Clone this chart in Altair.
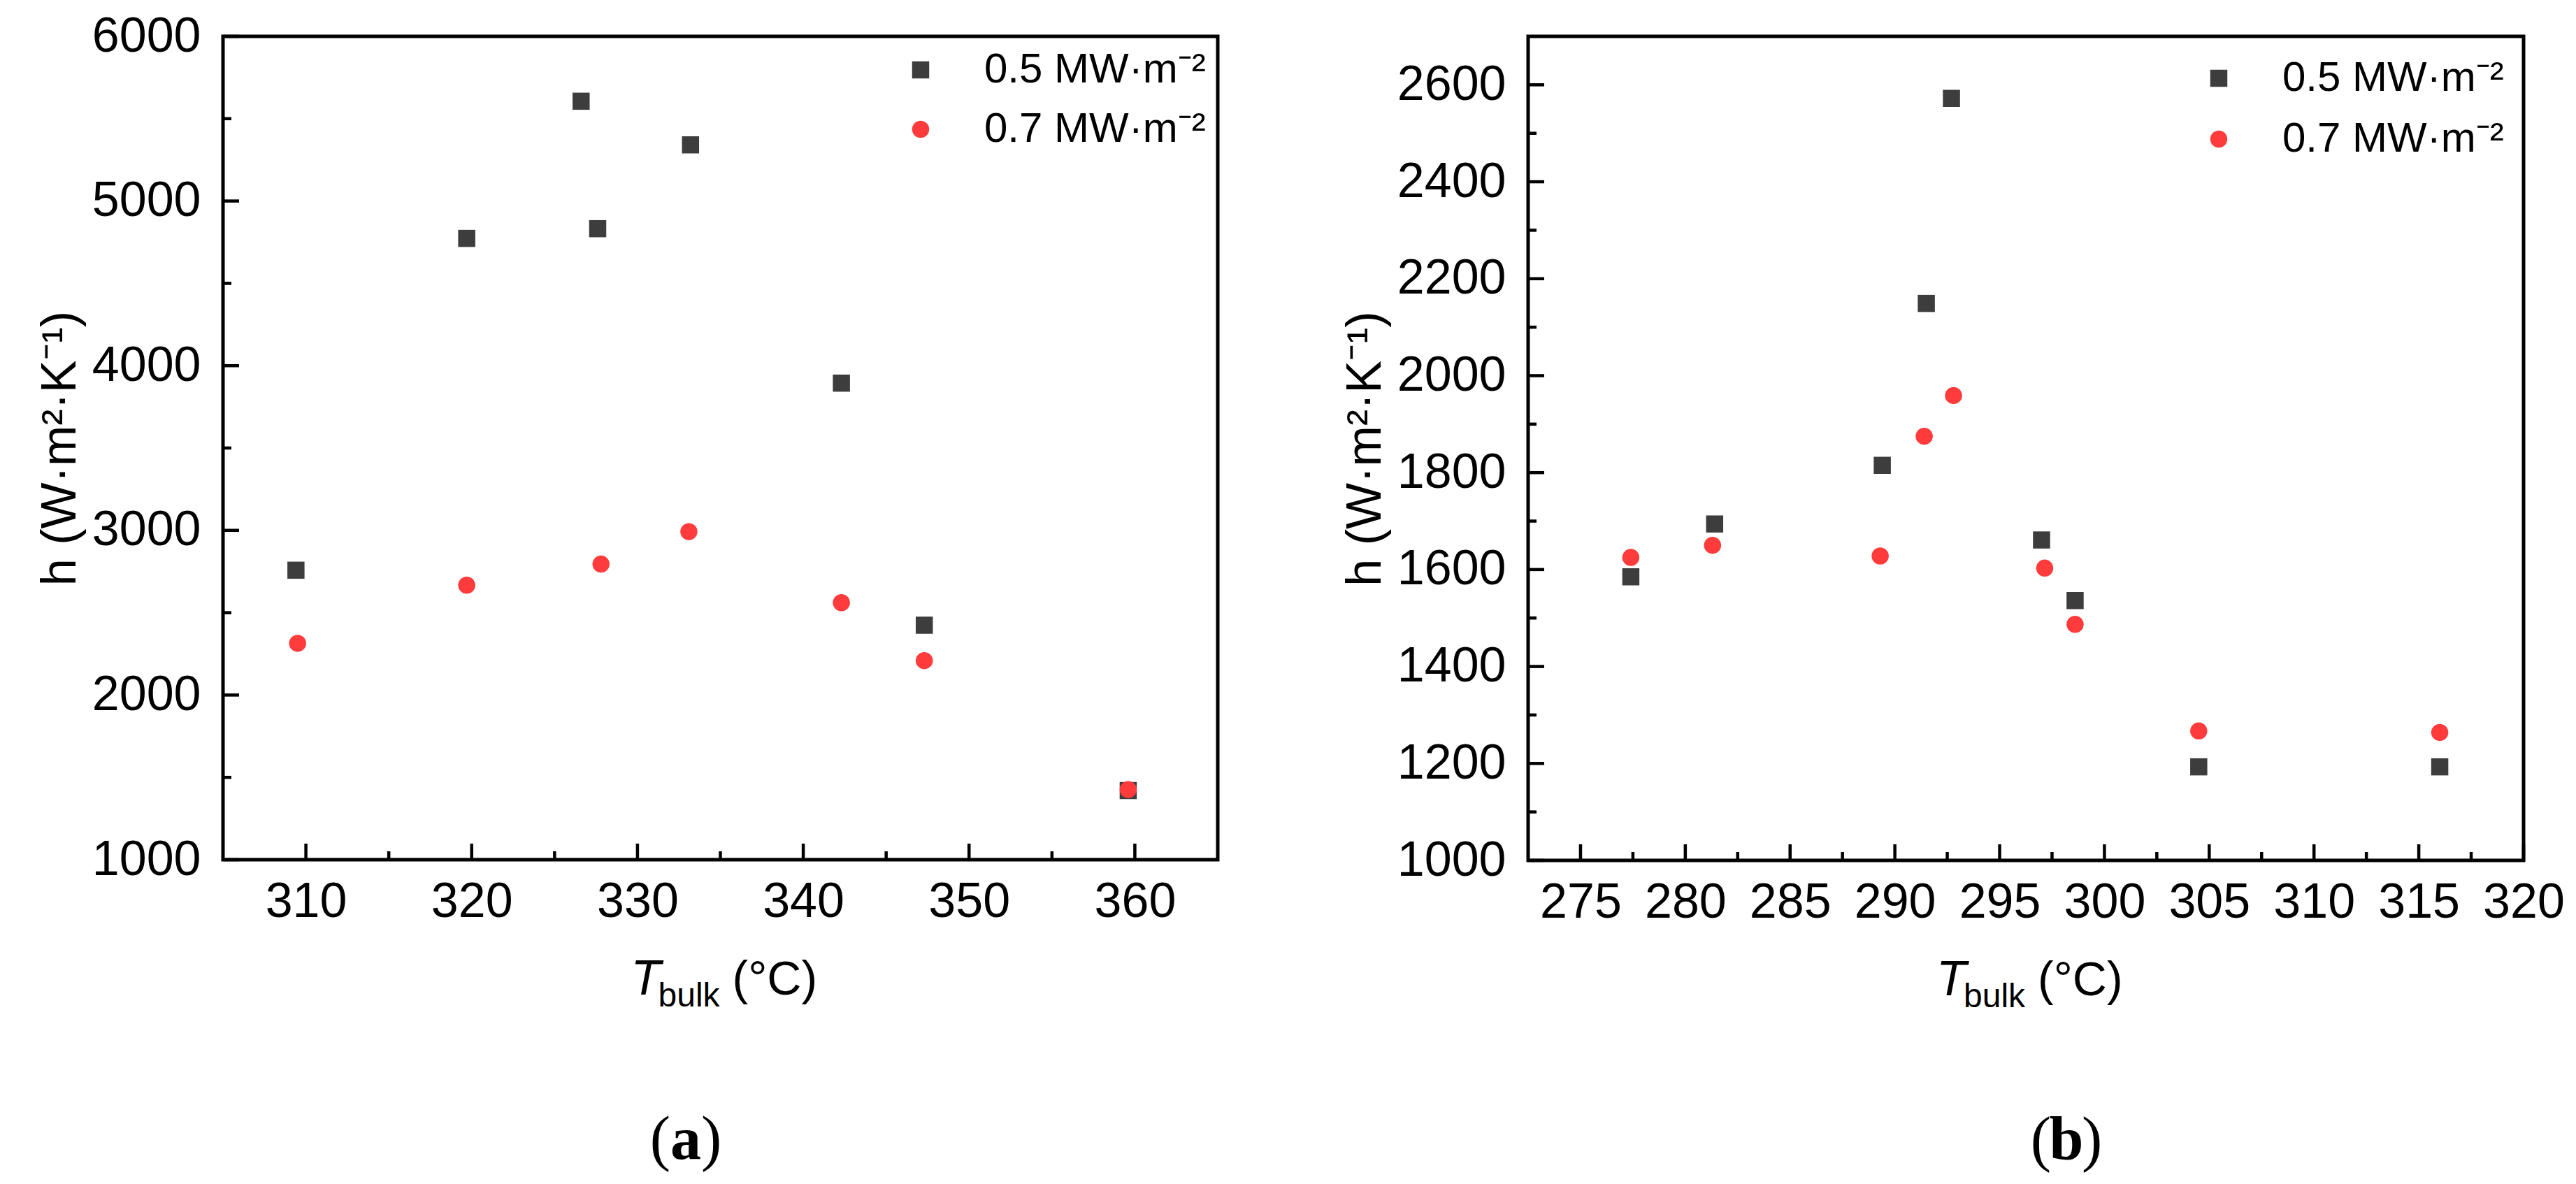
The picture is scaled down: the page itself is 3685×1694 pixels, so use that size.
import altair as alt
import pandas as pd

# ---------------- data ----------------
series_names = ["0.5 MW·m⁻²", "0.7 MW·m⁻²"]
series_colors = ["#3d3d3d", "#ff3b3b"]
series_shapes = ["square", "circle"]

# panel (a)
a_x_05 = [309.4, 319.7, 326.6, 327.6, 333.2, 342.3, 347.3, 359.6]
a_y_05 = [2758, 4773, 5606, 4832, 5341, 3894, 2424, 1420]
a_x_07 = [309.5, 319.7, 327.8, 333.1, 342.3, 347.3, 359.6]
a_y_07 = [2314, 2667, 2795, 2992, 2561, 2209, 1426]

# panel (b)
b_x_05 = [277.4, 281.4, 289.4, 291.5, 292.7, 297.0, 298.6, 304.5, 316.0]
b_y_05 = [1585, 1694, 1815, 2149, 2572, 1661, 1536, 1193, 1193]
b_x_07 = [277.4, 281.3, 289.3, 291.4, 292.8, 297.15, 298.6, 304.5, 316.0]
b_y_07 = [1625, 1650, 1628, 1875, 1959, 1603, 1487, 1267, 1264]

# axes
a_x_domain = [305, 365]
a_y_domain = [1000, 6000]
a_x_major = [310, 320, 330, 340, 350, 360]
a_x_minor = [315, 325, 335, 345, 355]
a_y_major = [1000, 2000, 3000, 4000, 5000, 6000]
a_y_minor = [1500, 2500, 3500, 4500, 5500]

b_x_domain = [272.5, 320]
b_y_domain = [1000, 2700]
b_x_major = [275, 280, 285, 290, 295, 300, 305, 310, 315, 320]
b_x_minor = [277.5, 282.5, 287.5, 292.5, 297.5, 302.5, 307.5, 312.5, 317.5]
b_y_major = [1000, 1200, 1400, 1600, 1800, 2000, 2200, 2400, 2600]
b_y_minor = [1100, 1300, 1500, 1700, 1900, 2100, 2300, 2500]

y_title = "h (W·m²·K⁻¹)"
x_title_parts = ["T", "bulk", "(°C)"]

SANS = "Liberation Sans"
SERIF = "Liberation Serif"


def txt(text, x, y, size, font=SANS, style="normal", weight="normal", align="left"):
    return alt.Chart(pd.DataFrame({"t": [text]})).mark_text(
        align=align, baseline="alphabetic", fontSize=size, font=font,
        fontStyle=style, fontWeight=weight, color="black"
    ).encode(x=alt.value(x), y=alt.value(y), text="t:N")


def panel(x05, y05, x07, y07, xdom, ydom, xmaj, xmin, ymaj, ymin, W, H,
          leg_x, leg_y, row_pad, letter, letter_x):
    xscale = alt.Scale(domain=xdom, nice=False, zero=False)
    yscale = alt.Scale(domain=ydom, nice=False, zero=False)
    xaxis = alt.Axis(
        values=xmaj, title=None, ticks=False, tickSize=0, domain=False, grid=False,
        labelFontSize=70, labelFont=SANS, labelColor="black", labelPadding=26,
        labelFlush=False, labelOverlap=False, format="d")
    yaxis = alt.Axis(
        values=ymaj, title=y_title, ticks=False, tickSize=0, domain=False, grid=False,
        labelFontSize=70, labelFont=SANS, labelColor="black", labelPadding=32,
        labelFlush=False, labelOverlap=False, format="d",
        titleFontSize=70, titleFont=SANS, titleFontWeight="normal",
        titleColor="black", titlePadding=9)
    df = pd.DataFrame({
        "x": x05 + x07,
        "y": y05 + y07,
        "s": [series_names[0]] * len(x05) + [series_names[1]] * len(x07),
    })
    leg = dict(orient="none", legendX=leg_x, legendY=leg_y, title=None,
               labelFontSize=60, labelFont=SANS, labelColor="black", labelLimit=0,
               symbolSize=600, rowPadding=row_pad, labelOffset=61,
               padding=0, symbolStrokeWidth=0, labelBaseline="middle")
    pts = alt.Chart(df).mark_point(filled=True, size=600, opacity=1, strokeWidth=0).encode(
        x=alt.X("x:Q", scale=xscale, axis=xaxis),
        y=alt.Y("y:Q", scale=yscale, axis=yaxis),
        color=alt.Color("s:N", scale=alt.Scale(domain=series_names, range=series_colors),
                        legend=alt.Legend(**leg)),
        shape=alt.Shape("s:N", scale=alt.Scale(domain=series_names, range=series_shapes),
                        legend=alt.Legend(**leg)),
    )

    def xticks(vals, length):
        return alt.Chart(pd.DataFrame({"x": vals})).mark_rule(color="black", strokeWidth=4.5).encode(
            x=alt.X("x:Q", scale=xscale, axis=xaxis),
            y=alt.value(H), y2=alt.value(H - length))

    def yticks(vals, length):
        return alt.Chart(pd.DataFrame({"y": vals})).mark_rule(color="black", strokeWidth=4.5).encode(
            y=alt.Y("y:Q", scale=yscale, axis=yaxis),
            x=alt.value(0), x2=alt.value(length))

    cx = W / 2.0
    texts = [
        txt(x_title_parts[0], cx - 128, H + 193, 70, style="italic"),
        txt(x_title_parts[1], cx - 89, H + 210, 48),
        txt(x_title_parts[2], cx + 17, H + 193, 68),
        txt("(", letter_x - 22, H + 428, 88, font=SERIF, align="right"),
        txt(letter, letter_x, H + 428, 88, font=SERIF, weight="bold", align="center"),
        txt(")", letter_x + 22, H + 428, 88, font=SERIF, align="left"),
    ]
    return alt.layer(
        pts, xticks(xmaj, 23), xticks(xmin, 12), yticks(ymaj, 23), yticks(ymin, 12),
        *texts
    ).properties(width=W, height=H)


left = panel(a_x_05, a_y_05, a_x_07, a_y_07, a_x_domain, a_y_domain,
             a_x_major, a_x_minor, a_y_major, a_y_minor, 1423, 1178,
             968, 18, 25, "a", 662)
right = panel(b_x_05, b_y_05, b_x_07, b_y_07, b_x_domain, b_y_domain,
              b_x_major, b_x_minor, b_y_major, b_y_minor, 1424, 1179,
              958, 30, 27, "b", 770)

chart = alt.hconcat(left, right, spacing=170).resolve_scale(
    color="independent", shape="independent"
).resolve_legend(
    color="independent", shape="independent"
).properties(
    padding={"left": 40, "top": 6, "right": 0, "bottom": 0},
    background="white",
).configure_view(stroke="black", strokeWidth=5)

chart.save("out.html", embed_options={"renderer": "svg", "actions": False})
